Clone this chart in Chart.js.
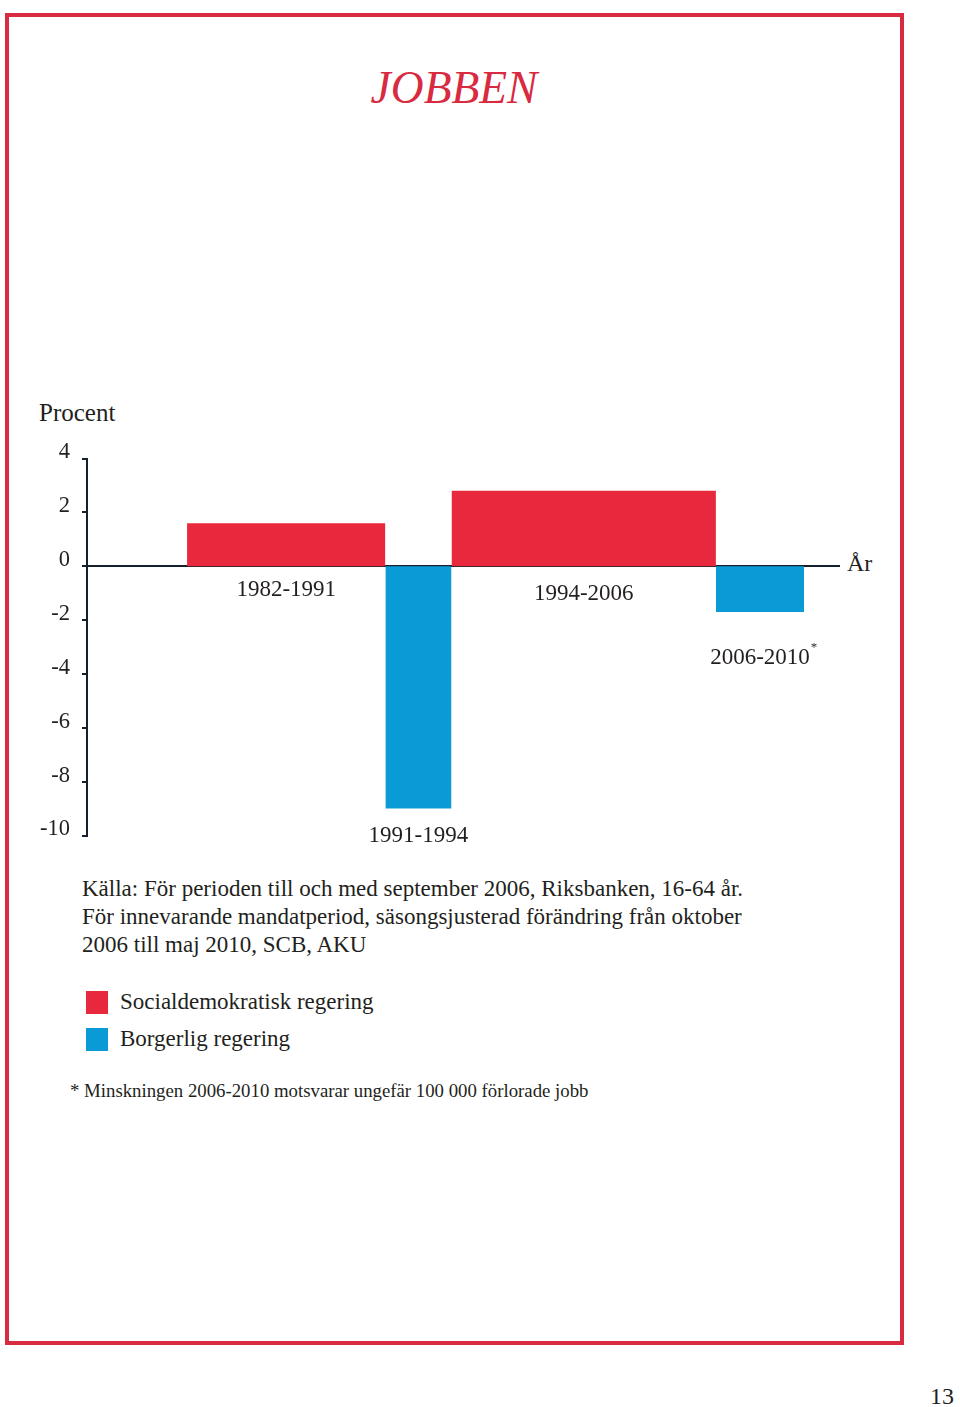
<!DOCTYPE html>
<html>
<head>
<meta charset="utf-8">
<script src="https://cdn.jsdelivr.net/npm/chart.js@4"></script>
<style>
  body { margin: 0; background: #fff; font-family: "Liberation Serif", "DejaVu Serif", serif; color: #231f20; }
  .page { position: relative; width: 960px; height: 1407px; overflow: hidden; }
  .frame { position: absolute; left: 5px; top: 13px; width: 891px; height: 1324px; border: 4px solid #d82a40; }
  .abs { position: absolute; white-space: nowrap; }
  #title { left: 0; width: 908px; text-align: center; top: 61px; font-size: 45.5px; font-style: italic; color: #d82a40; }
  #procent { left: 39px; top: 399px; font-size: 25px; }
  #ar { left: 847px; top: 550px; font-size: 24px; }
  #source { left: 82px; top: 875px; font-size: 23px; line-height: 28px; }
  .legend { left: 86px; font-size: 23px; }
  .legend i { display: inline-block; width: 22px; height: 23px; vertical-align: -5px; margin-right: 12px; }
  #foot { left: 70px; top: 1080px; font-size: 18.8px; }
  #pagenum { left: 930px; top: 1383px; font-size: 24px; }
  canvas { position: absolute; left: 0; top: 433px; }
</style>
</head>
<body>
<div class="page">
  <div class="frame"></div>
  <div class="abs" id="title">JOBBEN</div>
  <div class="abs" id="procent">Procent</div>
  <div class="abs" id="ar">År</div>
  <canvas id="jobChart" width="900" height="428" style="width:900px;height:428px"></canvas>
  <div class="abs" id="source">Källa: För perioden till och med september 2006, Riksbanken, 16-64 år.<br>För innevarande mandatperiod, säsongsjusterad förändring från oktober<br>2006 till maj 2010, SCB, AKU</div>
  <div class="abs legend" style="top:989px"><i style="background:#e8293d"></i>Socialdemokratisk regering</div>
  <div class="abs legend" style="top:1026px"><i style="background:#0a9bd7"></i>Borgerlig regering</div>
  <div class="abs" id="foot">* Minskningen 2006-2010 motsvarar ungefär 100 000 förlorade jobb</div>
  <div class="abs" id="pagenum">13</div>
</div>
<script>
// Förändring av antal sysselsatta per period
const periods = ['1982-1991', '1991-1994', '1994-2006', '2006-2010'];
const startYear = [1982, 1991, 1994, 2006];
const endYear = [1991, 1994, 2006, 2010];
const change = [1.6, -9.0, 2.8, -1.7];
const government = ['S', 'B', 'S', 'B'];
const footnoted = [false, false, false, true];

const yMin = -10, yMax = 4, yStep = 2;

const colors = { S: '#e8293d', B: '#0a9bd7' };
const axisColor = '#14202b';

// where the period labels sit (in y units) below the zero line
const labelAt = [-0.9, -10, -1.03, -3.4];

const datasets = periods.map((p, i) => ({
    label: p,
    data: [{ x: startYear[i], y: change[i] }, { x: endYear[i], y: change[i] }],
    fill: 'origin',
    backgroundColor: colors[government[i]],
    borderColor: 'rgba(0,0,0,0)',
    borderWidth: 0,
    pointRadius: 0,
    tension: 0
}));

const periodLabels = {
    id: 'periodLabels',
    afterDatasetsDraw(chart) {
        const { ctx, scales: { x, y } } = chart;
        ctx.save();
        ctx.fillStyle = '#231f20';
        ctx.font = '23px "Liberation Serif", serif';
        ctx.textAlign = 'center';
        ctx.textBaseline = 'middle';
        periods.forEach((p, i) => {
            const cx = x.getPixelForValue((startYear[i] + endYear[i]) / 2);
            const cy = y.getPixelForValue(labelAt[i]);
            ctx.fillText(p, cx, cy);
            if (footnoted[i]) {
                const w = ctx.measureText(p).width;
                ctx.save();
                ctx.font = '13px "Liberation Serif", serif';
                ctx.textAlign = 'left';
                ctx.fillText('*', cx + w / 2 + 1, cy - 10);
                ctx.restore();
            }
        });
        ctx.restore();
    }
};

new Chart(document.getElementById('jobChart'), {
    type: 'line',
    data: { datasets },
    options: {
        responsive: false,
        animation: false,
        layout: { padding: { top: 17, right: 60, bottom: 25, left: 0 } },
        plugins: { legend: { display: false }, tooltip: { enabled: false } },
        scales: {
            x: {
                type: 'linear',
                min: 1977.46,
                max: 2011.63,
                display: false
            },
            y: {
                min: yMin,
                max: yMax,
                afterFit(scale) { scale.width = 87; },
                ticks: {
                    stepSize: yStep,
                    padding: 12,
                    labelOffset: -6,
                    color: '#231f20',
                    font: { family: '"Liberation Serif", serif', size: 22.5 }
                },
                border: { display: true, color: axisColor, width: 2 },
                grid: {
                    drawTicks: true,
                    tickLength: 5,
                    tickColor: axisColor,
                    tickWidth: 2,
                    lineWidth: 2,
                    color: c => (c.tick && c.tick.value === 0 ? axisColor : 'rgba(0,0,0,0)')
                }
            }
        }
    },
    plugins: [periodLabels]
});
</script>
</body>
</html>
